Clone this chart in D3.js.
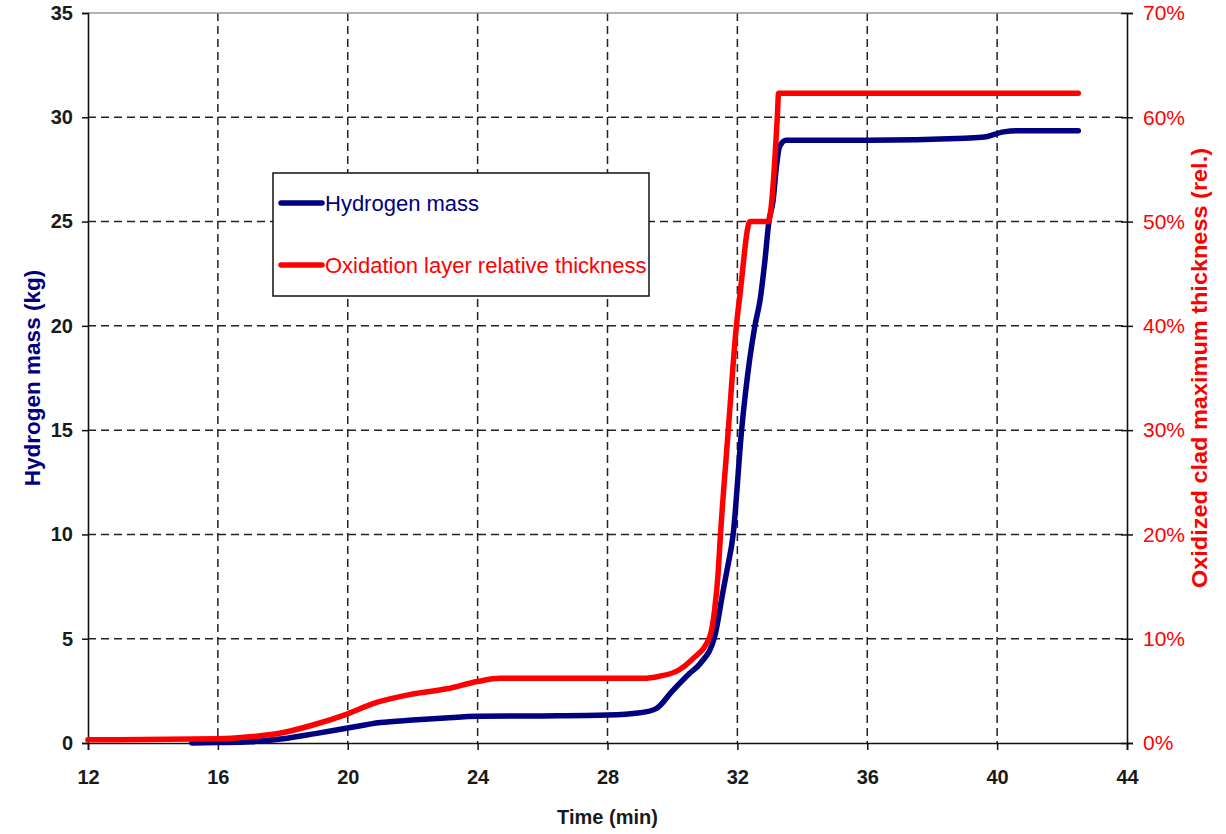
<!DOCTYPE html>
<html>
<head>
<meta charset="utf-8">
<script src="https://cdn.jsdelivr.net/npm/d3@7"></script>
<style>
  body { margin: 0; background: #fff; }
  svg text { font-family: "Liberation Sans Narrow", "Arial Narrow", "Liberation Sans", Arial, sans-serif; }
</style>
</head>
<body>
<svg id="chart" width="1226" height="834"></svg>
<script>
// time (min) and hydrogen mass (kg)
const h2Time = [15.2, 16, 17, 18, 19, 20, 21, 22, 23, 24, 26, 28, 29, 29.5, 30, 30.5, 30.85,
  31.3, 31.55, 31.67, 31.87, 32.13, 32.38, 32.54, 32.7, 32.85, 32.97, 33.1, 33.2, 33.3, 33.5,
  36, 39, 39.6, 40.2, 40.6, 42.5];
const h2Mass = [0, 0.02, 0.06, 0.2, 0.45, 0.72, 0.98, 1.1, 1.2, 1.28, 1.3, 1.34, 1.45, 1.65, 2.5, 3.3, 3.8,
  5.1, 7.2, 8.2, 10, 15, 18.4, 20, 21.25, 23.15, 25, 26, 27.6, 28.6, 28.9,
  28.9, 29.0, 29.05, 29.3, 29.35, 29.35];

// time (min) and oxidation layer relative thickness (%)
const oxTime = [12, 16, 17, 17.9, 18.9, 20, 20.8, 22, 23.05, 24, 24.7, 29.1, 29.6, 30.2, 30.6,
  31.15, 31.3, 31.4, 31.48, 31.72, 31.97, 32.08, 32.39, 32.95, 33.23, 33.27, 42.5];
const oxPct = [0.3, 0.4, 0.6, 0.93, 1.7, 2.8, 3.8, 4.7, 5.2, 5.9, 6.2, 6.2, 6.4, 7.0, 8,
  10.2, 12.8, 16, 20, 30, 40, 43, 50, 50, 60, 62.3, 62.3];

const xTicks = [12, 16, 20, 24, 28, 32, 36, 40, 44];
const yTicks = [0, 5, 10, 15, 20, 25, 30, 35];
const y2Ticks = [0, 10, 20, 30, 40, 50, 60, 70];

const seriesNames = ["Hydrogen mass", "Oxidation layer relative thickness"];
const navy = "#000080", red = "#ff0000";

const m = { left: 88, top: 13, right: 99, bottom: 91 };
const W = 1226, H = 834;
const w = W - m.left - m.right, h = H - m.top - m.bottom;

const svg = d3.select("#chart");
const g = svg.append("g").attr("transform", `translate(${m.left},${m.top})`);

const x = d3.scaleLinear().domain([12, 44]).range([0, w]);
const y = d3.scaleLinear().domain([0, 35]).range([h, 0]);
const y2 = d3.scaleLinear().domain([0, 70]).range([h, 0]);

// grid
g.append("g").selectAll("line").data(xTicks.slice(1, -1)).join("line")
  .attr("x1", d => x(d)).attr("x2", d => x(d)).attr("y1", 0).attr("y2", h)
  .attr("stroke", "#222").attr("stroke-width", 1.5).attr("stroke-dasharray", "8,5");
g.append("g").selectAll("line").data(yTicks.slice(1, -1)).join("line")
  .attr("y1", d => y(d)).attr("y2", d => y(d)).attr("x1", 0).attr("x2", w)
  .attr("stroke", "#222").attr("stroke-width", 1.5).attr("stroke-dasharray", "8,5");

// top border
g.append("line").attr("x1", 0).attr("x2", w).attr("y1", 0).attr("y2", 0)
  .attr("stroke", "#999").attr("stroke-width", 1.5);

// axes
const xAxis = g.append("g").attr("transform", `translate(0,${h})`)
  .call(d3.axisBottom(x).tickValues(xTicks).tickSize(7).tickPadding(20));
const yAxis = g.append("g")
  .call(d3.axisLeft(y).tickValues(yTicks).tickSize(6).tickPadding(9));
const y2Axis = g.append("g").attr("transform", `translate(${w},0)`)
  .call(d3.axisRight(y2).tickValues(y2Ticks).tickSize(6).tickPadding(10).tickFormat(d => d + "%"));

[xAxis, yAxis, y2Axis].forEach(a => {
  a.select(".domain").attr("stroke", "#111").attr("stroke-width", 1.6);
  a.selectAll(".tick line").attr("stroke", "#111").attr("stroke-width", 1.5);
  a.selectAll(".tick text").attr("font-size", 20).attr("fill", "#1a1a1a");
});
y2Axis.selectAll(".tick line").attr("x1", -6);
y2Axis.selectAll(".tick text").attr("fill", red).attr("font-size", 21);
xAxis.selectAll(".tick text").attr("font-weight", "bold");
yAxis.selectAll(".tick text").attr("font-weight", "bold");

// axis titles
svg.append("text").attr("x", m.left + x(28)).attr("y", 824)
  .attr("text-anchor", "middle").attr("font-size", 20).attr("font-weight", "bold")
  .attr("fill", "#1a1a1a").text("Time (min)");
svg.append("text").attr("transform", `translate(40,${m.top + h / 2}) rotate(-90)`)
  .attr("text-anchor", "middle").attr("font-size", 22.5).attr("font-weight", "bold")
  .attr("fill", navy).text("Hydrogen mass (kg)");
svg.append("text").attr("transform", "translate(1207,368) rotate(-90)")
  .attr("text-anchor", "middle").attr("font-size", 22).attr("font-weight", "bold")
  .attr("textLength", 440).attr("lengthAdjust", "spacingAndGlyphs")
  .attr("fill", red).text("Oxidized clad maximum thickness (rel.)");

// lines
const h2Data = h2Time.map((t, i) => [t, h2Mass[i]]);
const oxData = oxTime.map((t, i) => [t, oxPct[i]]);

g.append("path").datum(h2Data)
  .attr("d", d3.line().x(d => x(d[0])).y(d => y(d[1])).curve(d3.curveMonotoneX))
  .attr("fill", "none").attr("stroke", navy).attr("stroke-width", 5.5)
  .attr("stroke-linecap", "round").attr("stroke-linejoin", "round");
g.append("path").datum(oxData)
  .attr("d", d3.line().x(d => x(d[0])).y(d => y2(d[1])).curve(d3.curveMonotoneX))
  .attr("fill", "none").attr("stroke", red).attr("stroke-width", 5.5)
  .attr("stroke-linecap", "round").attr("stroke-linejoin", "round");

// legend
const lg = svg.append("g").attr("transform", "translate(273,173)");
lg.append("rect").attr("width", 376).attr("height", 123)
  .attr("fill", "#fff").attr("stroke", "#111").attr("stroke-width", 1.5);
const items = lg.selectAll(".item").data(seriesNames).join("g")
  .attr("transform", (d, i) => `translate(0,${30 + i * 62})`);
items.append("line").attr("x1", 8).attr("x2", 49)
  .attr("stroke", (d, i) => i ? red : navy).attr("stroke-width", 5.5).attr("stroke-linecap", "round");
items.append("text").attr("x", 52).attr("dy", "0.35em").attr("font-size", 22)
  .attr("fill", (d, i) => i ? red : navy).text(d => d);
</script>
</body>
</html>
